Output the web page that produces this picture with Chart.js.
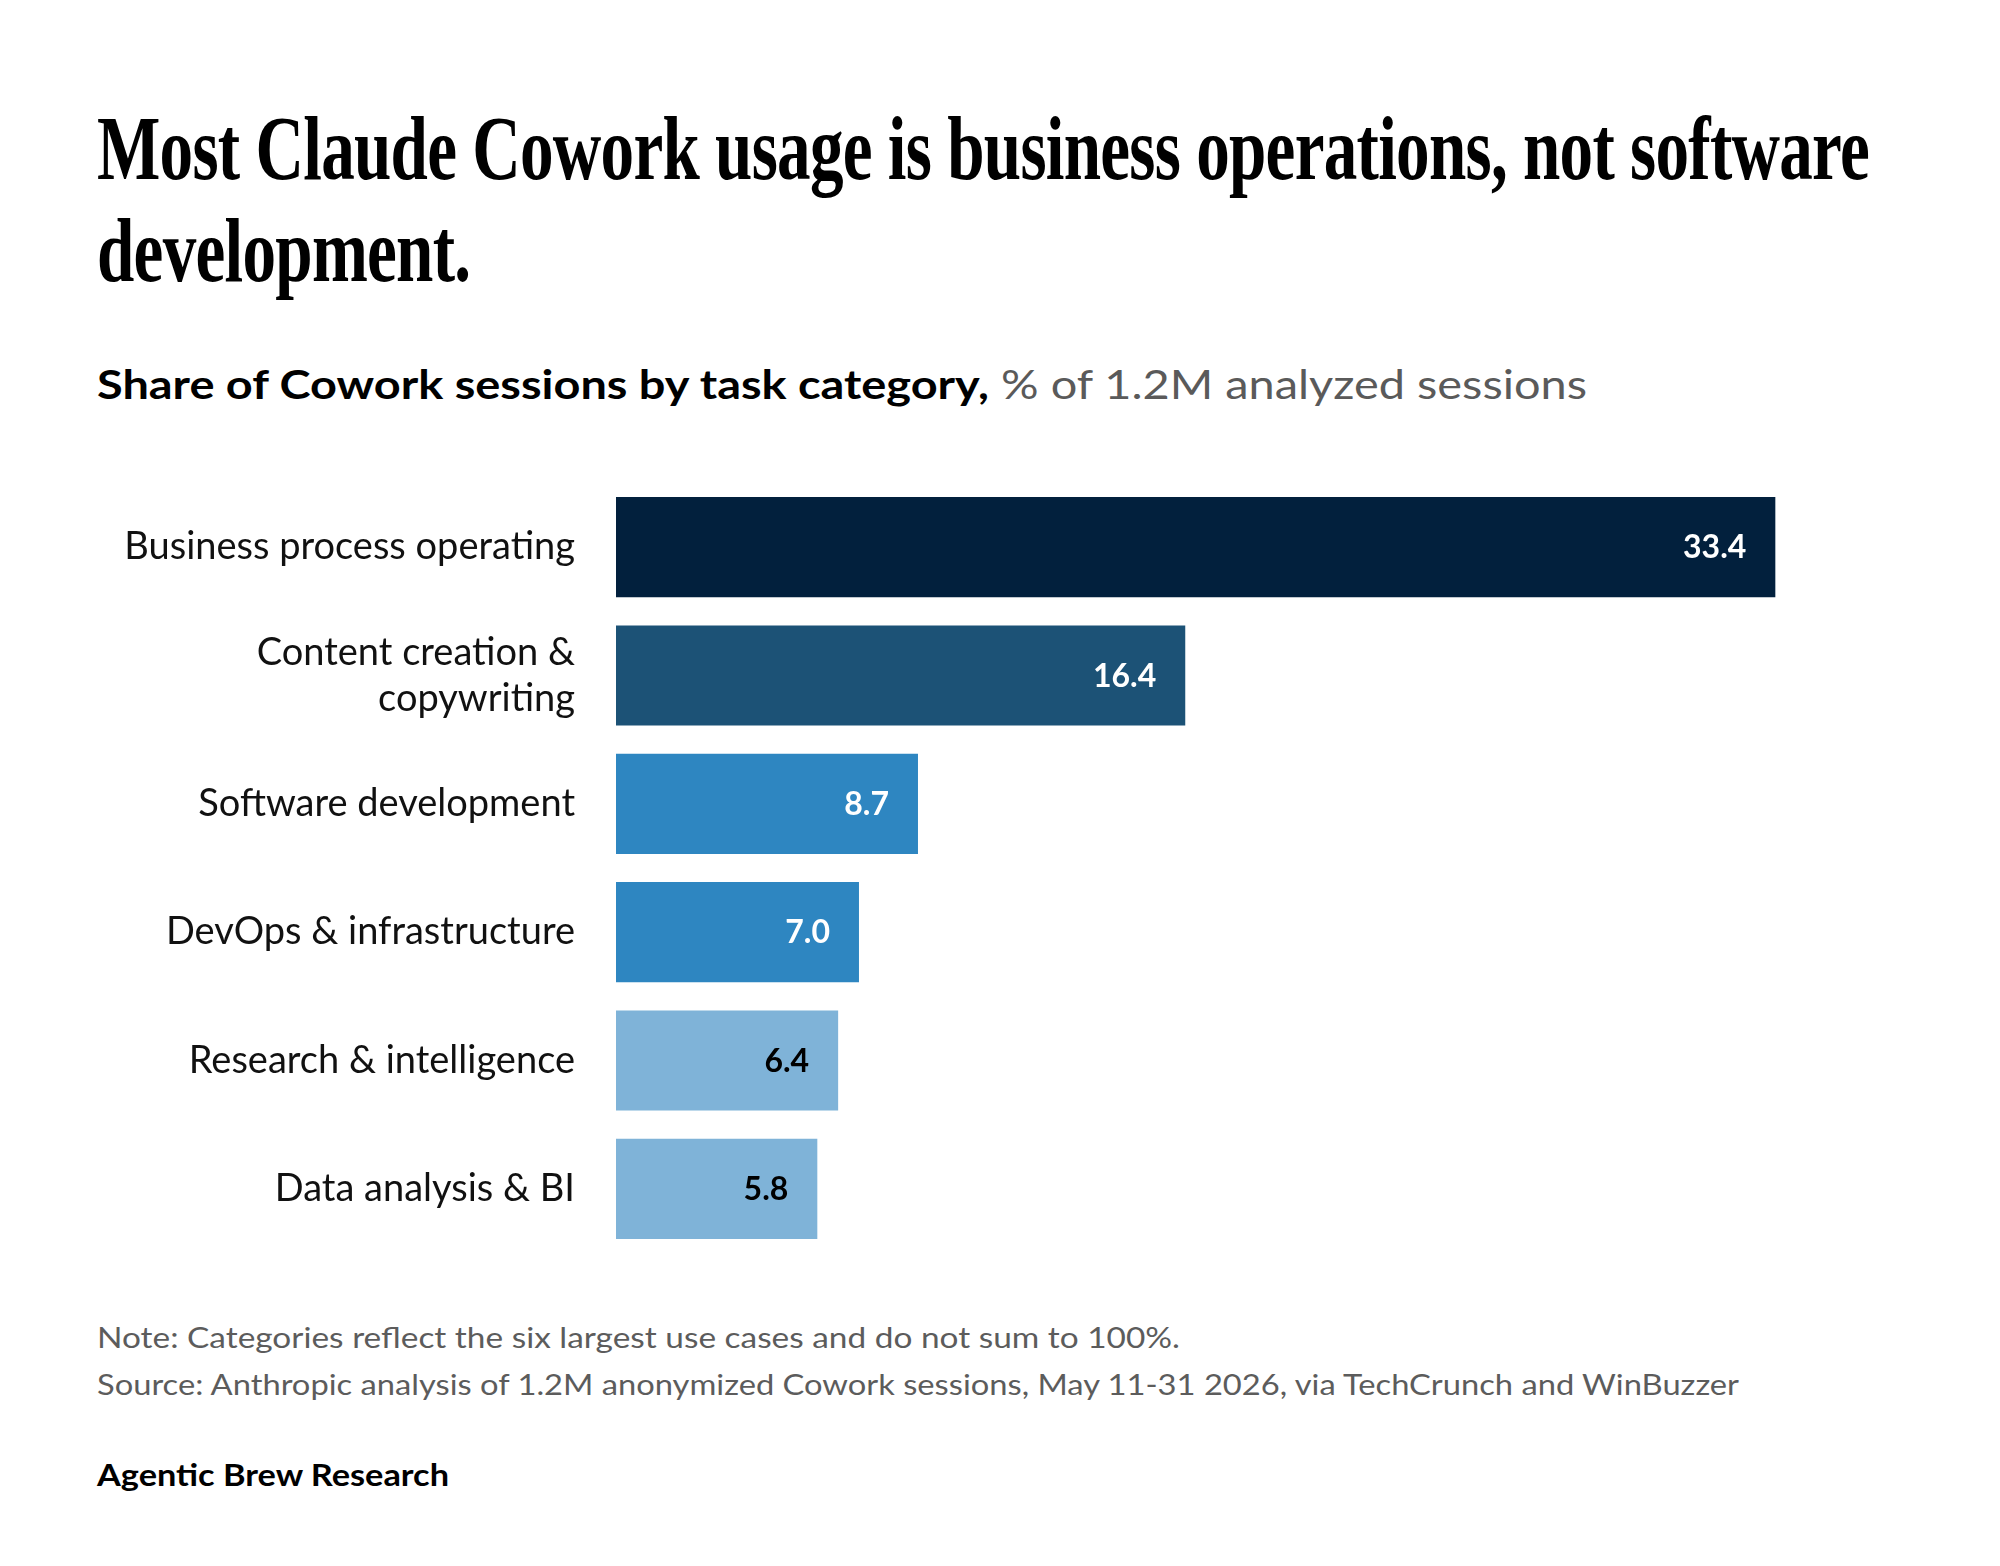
<!DOCTYPE html>
<html>
<head>
<meta charset="utf-8">
<script src="https://cdn.jsdelivr.net/npm/chart.js@4"></script>
<style>
  html, body { margin: 0; padding: 0; background: #fff; }
  body { width: 2000px; height: 1566px; position: relative; overflow: hidden; }
  .t { position: absolute; left: 97px; white-space: nowrap; transform-origin: 0 0; }
  #title { top: 97px; font-family: "Liberation Serif", "DejaVu Serif", serif; font-weight: bold; font-size: 92px; line-height: 102px; color: #000; letter-spacing: -1px; }
  #subtitle { top: 363px; font-family: Lato, "Noto Sans", sans-serif; font-size: 41px; line-height: 41px; color: #5a5a5a; }
  #subtitle b { color: #000; font-weight: bold; }
  #note, #source { font-family: Lato, "Noto Sans", sans-serif; font-size: 29px; line-height: 29px; color: #5c5c5c; }
  #note { top: 1322px; }
  #source { top: 1369px; }
  #brand { top: 1459px; font-family: Lato, "Noto Sans", sans-serif; font-weight: bold; font-size: 30px; line-height: 30px; color: #000; }
  #wrap { position: absolute; left: 0; top: 483px; width: 2000px; height: 770px; }
</style>
</head>
<body>
<div id="title" class="t"><span id="tl1">Most Claude Cowork usage is business operations, not software</span><br><span>development.</span></div>
<div id="subtitle" class="t"><b>Share of Cowork sessions by task category,</b> % of 1.2M analyzed sessions</div>
<div id="wrap"><canvas id="c"></canvas></div>
<div id="note" class="t">Note: Categories reflect the six largest use cases and do not sum to 100%.</div>
<div id="source" class="t">Source: Anthropic analysis of 1.2M anonymized Cowork sessions, May 11-31 2026, via TechCrunch and WinBuzzer</div>
<div id="brand" class="t">Agentic Brew Research</div>
<script>
const categories = [
  "Business process operating",
  ["Content creation &", "copywriting"],
  "Software development",
  "DevOps & infrastructure",
  "Research & intelligence",
  "Data analysis & BI"
];
const shares = [33.4, 16.4, 8.7, 7.0, 6.4, 5.8];
const barColors = ["#02203d", "#1c5276", "#2e86c1", "#2e86c1", "#7fb3d8", "#7fb3d8"];
const valueLabelColors = ["#ffffff", "#ffffff", "#ffffff", "#ffffff", "#000000", "#000000"];

function fitWidth(el, target) {
  const w = el.getBoundingClientRect().width;
  if (w > 0) el.style.transform = "scaleX(" + (target / w) + ")";
}
function fitAll() {
  const tl1 = document.getElementById("tl1");
  const w1 = tl1.getBoundingClientRect().width;
  document.getElementById("title").style.transform = "scaleX(" + (1772 / w1) + ")";
  fitWidth(document.getElementById("subtitle"), 1490);
  fitWidth(document.getElementById("note"), 1083);
  fitWidth(document.getElementById("source"), 1642);
  fitWidth(document.getElementById("brand"), 352);
}

const valueLabels = {
  id: "valueLabels",
  afterDatasetsDraw(chart) {
    const ctx = chart.ctx;
    const meta = chart.getDatasetMeta(0);
    ctx.save();
    ctx.font = "bold 32px Lato, 'Noto Sans', sans-serif";
    ctx.textAlign = "right";
    ctx.textBaseline = "middle";
    meta.data.forEach((el, i) => {
      ctx.fillStyle = valueLabelColors[i];
      ctx.fillText(shares[i].toFixed(1), el.x - 29, el.y + 1);
    });
    ctx.restore();
  }
};

function draw() {
  fitAll();
  new Chart(document.getElementById("c"), {
    type: "bar",
    data: {
      labels: categories,
      datasets: [{
        data: shares,
        backgroundColor: barColors,
        borderWidth: 0,
        categoryPercentage: 1.0,
        barPercentage: 0.78
      }]
    },
    options: {
      indexAxis: "y",
      responsive: true,
      maintainAspectRatio: false,
      animation: false,
      layout: { padding: { left: 0, right: 65, top: 0, bottom: 0 } },
      plugins: { legend: { display: false }, tooltip: { enabled: false } },
      scales: {
        x: { display: false, min: 0, max: 38 },
        y: {
          afterFit(scale) {
            scale.width = 616;
            scale.paddingTop = 0; scale.paddingBottom = 0;
            scale.paddingLeft = 0; scale.paddingRight = 0;
          },
          grid: { display: false, drawTicks: false },
          border: { display: false },
          ticks: {
            color: "#111",
            padding: 41,
            font: { family: "Lato, 'Noto Sans', sans-serif", size: 38, lineHeight: 1.21 }
          }
        }
      }
    },
    plugins: [valueLabels]
  });
}
if (document.fonts && document.fonts.ready) {
  document.fonts.load("35px Lato").then(() => document.fonts.load("bold 35px Lato")).then(draw, draw);
} else { draw(); }
</script>
</body>
</html>
